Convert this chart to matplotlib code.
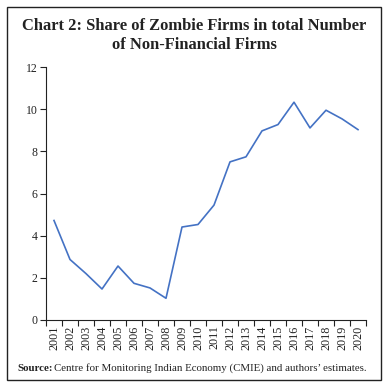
import matplotlib
matplotlib.use("Agg")
import matplotlib.pyplot as plt
from matplotlib.patches import Rectangle
from matplotlib.ticker import FixedLocator

years = [str(y) for y in range(2001, 2021)]
share = [4.72, 2.87, 2.2, 1.47, 2.56, 1.74, 1.52, 1.03, 4.41, 4.53,
         5.45, 7.5, 7.74, 8.97, 9.27, 10.33, 9.11, 9.95, 9.54, 9.03]
yticks = [0, 2, 4, 6, 8, 10, 12]

W = H = 388
fig = plt.figure(figsize=(W/100, H/100), dpi=100)
fig.patch.set_facecolor("white")

# outer frame
fig.patches.append(Rectangle((7/W, 8/H), 374/W, 373/H, transform=fig.transFigure,
                             fill=False, edgecolor="#222222", linewidth=1.0))

fig.text(194/W, 1 - 26/H, "Chart 2: Share of Zombie Firms in total Number",
         ha="center", va="center", fontsize=11.9, fontweight="bold",
         family="Liberation Serif", color="#222222")
fig.text(194/W, 1 - 45/H, "of Non-Financial Firms",
         ha="center", va="center", fontsize=11.9, fontweight="bold",
         family="Liberation Serif", color="#222222")

ax = fig.add_axes([46/W, 1 - 320/H, (366-46)/W, (320-67)/H])
x = list(range(len(years)))
ax.plot(x, share, color="#4472C4", linewidth=1.2)
ax.set_xlim(-0.5, len(years) - 0.5)
ax.set_ylim(0, 12)
ax.set_yticks(yticks)
ax.set_yticklabels([str(v) for v in yticks], fontsize=8.5, family="Liberation Serif", color="#222222")
ax.set_xticks(x)
ax.set_xticklabels(years, rotation=90, fontsize=8.7, family="Liberation Serif", color="#222222")
ax.xaxis.set_minor_locator(FixedLocator([i - 0.5 for i in range(len(years) + 1)]))
ax.tick_params(axis="x", which="major", length=0, pad=4)
ax.tick_params(axis="x", which="minor", length=4, width=0.8, color="#222222")
ax.tick_params(axis="y", length=4, width=0.8, color="#222222", pad=2)
for s in ["top", "right"]:
    ax.spines[s].set_visible(False)
for s in ["left", "bottom"]:
    ax.spines[s].set_linewidth(0.8)
    ax.spines[s].set_color("#222222")

t1 = fig.text(17/W, 1 - 371/H, "Source:", ha="left", va="baseline", fontsize=7.8,
              fontweight="bold", family="Liberation Serif", color="#222222")
fig.canvas.draw()
bb = t1.get_window_extent()
fig.text((bb.x1 + 2)/W, 1 - 371/H,
         "Centre for Monitoring Indian Economy (CMIE) and authors\u2019 estimates.",
         ha="left", va="baseline", fontsize=7.8, family="Liberation Serif", color="#222222")

fig.savefig("out.png", dpi=100, facecolor="white")
